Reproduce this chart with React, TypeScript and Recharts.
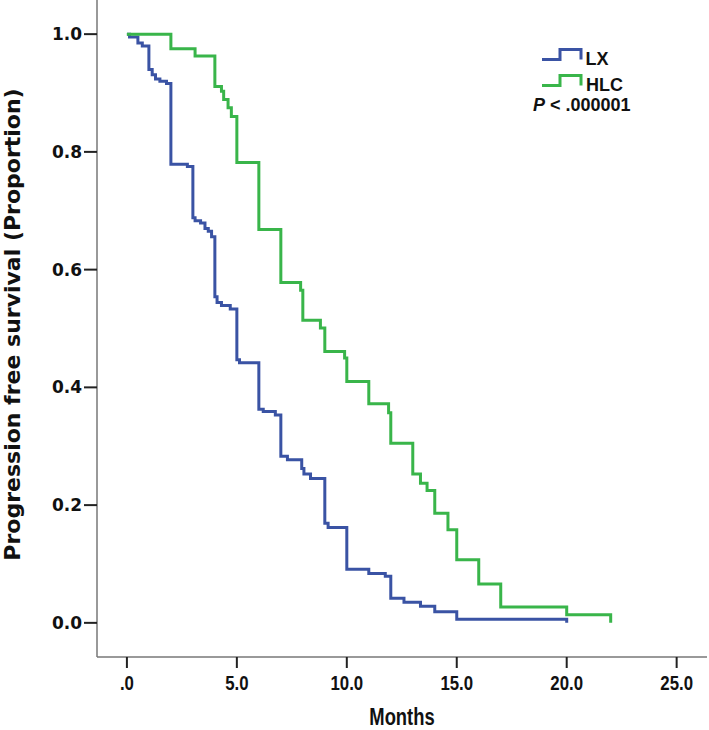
import { LineChart, Line, XAxis, YAxis, Legend } from "recharts";

// Kaplan-Meier steps (month, proportion)
const lxMonths = [
  0, 0.12, 0.5, 0.7, 1.0, 1.15, 1.3, 1.5, 1.8, 2.0, 2.75, 3.0, 3.1, 3.35, 3.55,
  3.7, 3.85, 4.0, 4.1, 4.3, 4.7, 5.0, 5.12, 6.0, 6.2, 6.75, 7.0, 7.3, 7.95,
  8.05, 8.35, 9.0, 9.15, 10.0, 11.0, 11.75, 12.0, 12.6, 13.35, 14.0, 15.0, 20.0,
];
const lxSurvival = [
  1.0, 0.995, 0.985, 0.98, 0.94, 0.931, 0.924, 0.92, 0.916, 0.779, 0.775, 0.688,
  0.683, 0.679, 0.67, 0.665, 0.656, 0.554, 0.544, 0.539, 0.533, 0.447, 0.442,
  0.363, 0.359, 0.353, 0.283, 0.277, 0.262, 0.253, 0.245, 0.169, 0.162, 0.091,
  0.084, 0.079, 0.042, 0.035, 0.028, 0.019, 0.006, 0.0,
];

const hlcMonths = [
  0, 2.0, 3.1, 4.0, 4.3, 4.4, 4.6, 4.75, 5.0, 6.0, 7.0, 7.9, 8.0, 8.8, 9.0, 9.9,
  10.0, 11.0, 11.9, 12.0, 13.0, 13.35, 13.65, 14.0, 14.6, 15.0, 16.0, 17.0,
  20.0, 22.0,
];
const hlcSurvival = [
  1.0, 0.975, 0.963, 0.911, 0.903, 0.889, 0.875, 0.86, 0.782, 0.668, 0.578,
  0.565, 0.514, 0.501, 0.461, 0.45, 0.41, 0.372, 0.357, 0.305, 0.253, 0.237,
  0.225, 0.186, 0.158, 0.107, 0.066, 0.027, 0.0136, 0.0,
];

const xTicks = [0, 5, 10, 15, 20, 25];
const yTicks = [0, 0.2, 0.4, 0.6, 0.8, 1.0];

const colors = {
  lx: "#3a53a4",
  hlc: "#39b54a",
};

const lxData = lxMonths.map((m, i) => ({ month: m, value: lxSurvival[i] }));
const hlcData = hlcMonths.map((m, i) => ({ month: m, value: hlcSurvival[i] }));

// the x axis texts are a narrow bold face in the original
const narrowText = {
  fontFamily: "Liberation Sans",
  fontWeight: "bold",
  fill: "#111",
};

const XTick = ({ x, y, payload }: any) => (
  <g transform={`translate(${x},${y})`}>
    <text
      transform="scale(0.8,1)"
      textAnchor="middle"
      dy="0.71em"
      fontSize={21}
      {...narrowText}
    >
      {payload.value === 0 ? ".0" : Number(payload.value).toFixed(1)}
    </text>
  </g>
);

const XTitle = ({ viewBox }: any) => {
  const cx = viewBox.x + viewBox.width / 2;
  const by = viewBox.y + viewBox.height - 5;
  return (
    <g transform={`translate(${cx},${by})`}>
      <text transform="scale(0.8,1)" textAnchor="middle" fontSize={23} {...narrowText}>
        Months
      </text>
    </g>
  );
};

const YTitle = ({ viewBox }: any) => {
  const cx = viewBox.x + 12;
  const cy = viewBox.y + viewBox.height / 2 - 4;
  return (
    <text
      x={cx}
      y={cy}
      transform={`rotate(-90 ${cx} ${cy})`}
      textAnchor="middle"
      dominantBaseline="central"
      fontFamily="DejaVu Sans"
      fontWeight="bold"
      fontSize={22}
      fill="#111"
    >
      Progression free survival (Proportion)
    </text>
  );
};

const StepSymbol = ({ y, color }: { y: number; color: string }) => (
  <path
    d={`M12 ${y + 10} H30 V${y} H51 V${y + 10}`}
    fill="none"
    stroke={color}
    strokeWidth={3}
  />
);

const renderLegend = () => (
  <svg width={120} height={80} style={{ overflow: "visible" }}>
    <StepSymbol y={9.5} color={colors.lx} />
    <StepSymbol y={35.5} color={colors.hlc} />
    <g fontFamily="Liberation Sans" fontWeight="bold" fontSize={18} fill="#111">
      <text x={55.5} y={25}>
        LX
      </text>
      <text x={56} y={50.5}>
        HLC
      </text>
      <text x={3} y={71}>
        <tspan fontStyle="italic">P</tspan> &lt; .000001
      </text>
    </g>
  </svg>
);

export default function App() {
  return (
    <div style={{ position: "absolute", left: 0, top: 0, background: "#fff" }}>
      <LineChart
        width={709}
        height={730}
        margin={{ top: 0, right: 2, bottom: 0, left: 0 }}
      >
        <XAxis
          type="number"
          dataKey="month"
          domain={[-1.36, 26.38]}
          allowDataOverflow
          ticks={xTicks}
          height={73}
          tickSize={11}
          tickMargin={7}
          axisLine={{ stroke: "#777", strokeWidth: 1.5 }}
          tickLine={{ stroke: "#222", strokeWidth: 2 }}
          tick={<XTick />}
          label={<XTitle />}
        />
        <YAxis
          type="number"
          domain={[-0.058, 1.058]}
          allowDataOverflow
          ticks={yTicks}
          tickFormatter={(v) => v.toFixed(1)}
          width={97}
          tickSize={13}
          tickMargin={2}
          axisLine={{ stroke: "#777", strokeWidth: 1.5 }}
          tickLine={{ stroke: "#222", strokeWidth: 2 }}
          tick={{
            fontFamily: "DejaVu Sans",
            fontWeight: "bold",
            fontSize: 17,
            fill: "#111",
          }}
          label={<YTitle />}
        />
        <Legend
          layout="vertical"
          align="center"
          verticalAlign="middle"
          content={renderLegend}
          wrapperStyle={{ left: 530, top: 40, width: 120 }}
        />
        <Line
          data={lxData}
          dataKey="value"
          name="LX"
          type="stepAfter"
          stroke={colors.lx}
          strokeWidth={3}
          dot={false}
          isAnimationActive={false}
        />
        <Line
          data={hlcData}
          dataKey="value"
          name="HLC"
          type="stepAfter"
          stroke={colors.hlc}
          strokeWidth={3}
          dot={false}
          isAnimationActive={false}
        />
      </LineChart>
    </div>
  );
}
